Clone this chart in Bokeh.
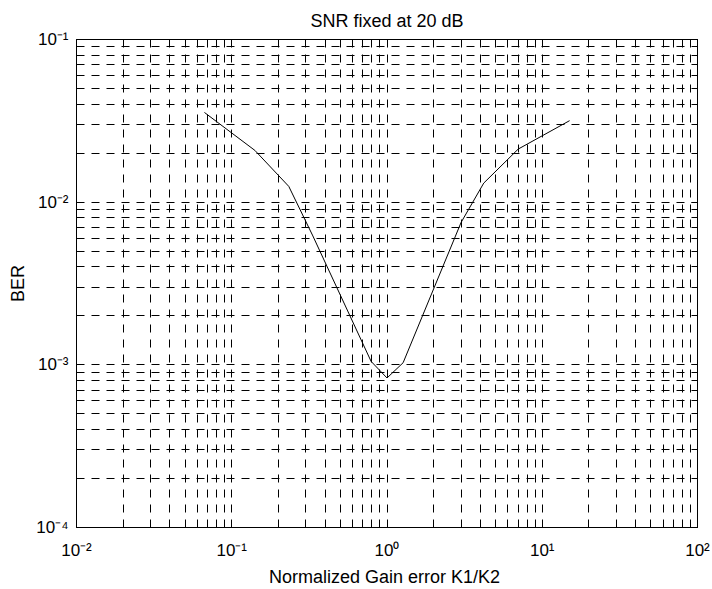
import math
from bokeh.plotting import figure
from bokeh.models import FixedTicker, LogAxis
from bokeh.embed import file_html
from bokeh.resources import INLINE

# ---- data ----
gain_ratio = [0.0667, 0.141, 0.233, 0.333, 0.79, 1.0, 1.27, 3.0, 4.2, 7.0, 15.0]
ber = [0.0356, 0.0208, 0.0125, 0.0062, 0.00105, 0.00083, 0.00103, 0.0075, 0.0131, 0.0212, 0.0317]

x_ticks = [1e-2, 1e-1, 1e0, 1e1, 1e2]
x_tick_labels = ["10⁻²", "10⁻¹", "10⁰", "10¹", "10²"]
y_ticks = [1e-4, 1e-3, 1e-2, 1e-1]
y_tick_labels = ["10⁻⁴", "10⁻³", "10⁻²", "10⁻¹"]

title_text = "SNR fixed at 20 dB"
x_label_text = "Normalized Gain error  K1/K2"
y_label_text = "BER"

FONT = "Liberation Sans"
TICK_FS = "17px"
LABEL_FS = "18px"

x_lo, x_hi = x_ticks[0], x_ticks[-1]
y_lo, y_hi = y_ticks[0], y_ticks[-1]

x_minor = [m * t for t in x_ticks[:-1] for m in range(2, 10)]
y_minor = [m * t for t in y_ticks[:-1] for m in range(2, 10)]

p = figure(width=712, height=589, x_axis_type="log", y_axis_type="log",
           x_range=(x_lo, x_hi), y_range=(y_lo, y_hi),
           output_backend="svg", toolbar_location=None,
           title=title_text,
           min_border_left=76, min_border_right=15,
           min_border_top=38, min_border_bottom=62)
p.background_fill_color = "white"
p.border_fill_color = "white"
p.outline_line_color = "black"
p.outline_line_width = 1

p.title.align = "center"
p.title.text_font = FONT
p.title.text_font_size = LABEL_FS
p.title.text_font_style = "normal"
p.title.text_color = "black"
p.title.standoff = 17

xt = FixedTicker(ticks=x_ticks, minor_ticks=x_minor)
yt = FixedTicker(ticks=y_ticks, minor_ticks=y_minor)

bottom_axis = p.below[0]
left_axis = p.left[0]
right_axis = LogAxis()
top_axis = LogAxis()
p.add_layout(right_axis, "right")
p.add_layout(top_axis, "above")

for ax, tk in [(bottom_axis, xt), (top_axis, xt), (left_axis, yt), (right_axis, yt)]:
    ax.ticker = tk
    ax.major_tick_in = 6
    ax.major_tick_out = 0
    ax.minor_tick_in = 3
    ax.minor_tick_out = 0
    ax.axis_line_color = "black"
    ax.axis_line_width = 1
    ax.major_tick_line_color = "black"
    ax.minor_tick_line_color = "black"
    ax.major_label_text_font = FONT
    ax.major_label_text_font_size = TICK_FS
    ax.major_label_text_color = "black"
    ax.axis_label_text_font = FONT
    ax.axis_label_text_font_size = LABEL_FS
    ax.axis_label_text_font_style = "normal"
    ax.axis_label_text_color = "black"

bottom_axis.major_label_overrides = dict(zip(x_ticks, x_tick_labels))
left_axis.major_label_overrides = dict(zip(y_ticks, y_tick_labels))
for ax, tk in [(right_axis, y_ticks), (top_axis, x_ticks)]:
    ax.major_label_overrides = {t: "" for t in tk}
    ax.major_label_text_font_size = "1px"
    ax.major_label_standoff = 0

bottom_axis.axis_label = x_label_text
left_axis.axis_label = y_label_text
bottom_axis.major_label_standoff = 13
left_axis.major_label_standoff = 8
bottom_axis.axis_label_standoff = 4
left_axis.axis_label_standoff = 5

for g, tk in [(p.xgrid[0], xt), (p.ygrid[0], yt)]:
    g.ticker = tk
    g.grid_line_color = "black"
    g.grid_line_alpha = 1.0
    g.grid_line_width = 1
    g.grid_line_dash = "8 7"
    g.minor_grid_line_color = "black"
    g.minor_grid_line_alpha = 1.0
    g.minor_grid_line_width = 1
    g.minor_grid_line_dash = "8 7"

p.line(gain_ratio, ber, line_color="black", line_width=1)

open("out.html", "w").write(file_html(p, INLINE))
